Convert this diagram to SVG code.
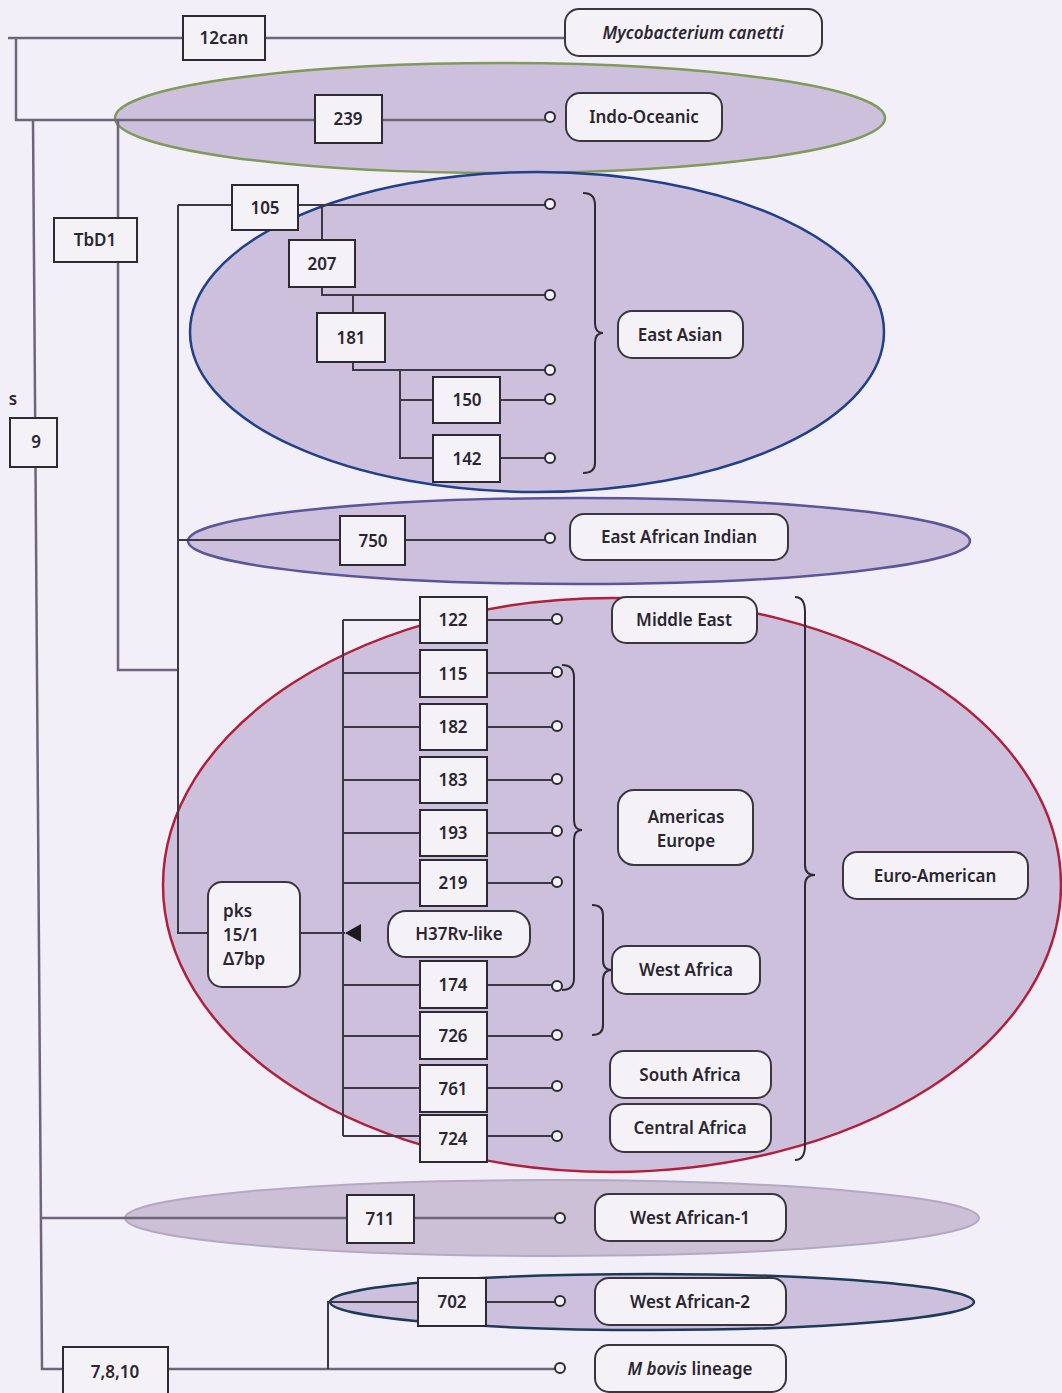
<svg xmlns="http://www.w3.org/2000/svg" width="1062" height="1393" viewBox="0 0 1062 1393">
<defs>
<style>
.t{font-family:"Noto Sans","Open Sans",sans-serif;font-size:17px;font-weight:600;fill:#2a2630;text-anchor:middle}
.tl{font-family:"Noto Sans","Open Sans",sans-serif;font-size:17px;font-weight:600;fill:#2a2630;text-anchor:start}
.box{fill:#f5f2f7;stroke:#2e2a34;stroke-width:2}
.lab{fill:#f5f2f7;stroke:#3a3640;stroke-width:2}
.ln{fill:none;stroke:#3d3846;stroke-width:2}
.tr{fill:none;stroke:#6e6578;stroke-width:2.5}
.dot{fill:#f5f2f7;stroke:#2e2a34;stroke-width:2}
.br{fill:none;stroke:#2e2a34;stroke-width:2}
.ell{fill:#cdc0dc}
</style>
</defs>
<rect width="1062" height="1393" fill="#f3eff8"/>

<g id="ellipses">
<ellipse id="indo-oceanic-group" class="ell" cx="500" cy="118" rx="385" ry="55" stroke="#7f9a5a" stroke-width="2.5"/>
<ellipse id="east-asian-group" class="ell" cx="537" cy="332" rx="347" ry="160" stroke="#22408a" stroke-width="2.5"/>
<ellipse id="eai-group" class="ell" cx="579" cy="541" rx="391" ry="43" stroke="#5a569a" stroke-width="2.5"/>
<ellipse id="euro-group" class="ell" cx="612" cy="885" rx="449" ry="287" stroke="#b0203a" stroke-width="2.5"/>
<ellipse id="wa1-group" cx="552" cy="1218" rx="427" ry="38" fill="#cbc0d6" stroke="#b3a9c2" stroke-width="2"/>
<ellipse id="wa2-group" class="ell" cx="652" cy="1302" rx="322" ry="28" stroke="#1f3a58" stroke-width="2.5"/>
</g>

<g id="connectors">
<path class="tr" d="M8,38 H565 M16,38 V120 H550 M33,120 L42,1369 H560 M118,120 V670 H178"/>
<path class="ln" d="M178,205 V933 H345"/>
<path class="ln" d="M178,205 H545 M322,205 V295 H545 M353,295 V370 H545 M400,370 V458 H545 M400,400 H545"/>
<path class="ln" d="M178,540 H545"/>
<path class="ln" d="M343,620 V1136 M343,620 H552 M343,673 H552 M343,727 H552 M343,780 H552 M343,833 H552 M343,883 H552 M343,985 H552 M343,1036 H552 M343,1088 H552 M343,1136 H552"/>
<path class="tr" d="M42,1218 H555"/>
<path class="ln" d="M328,1369 V1302 H555"/>
<polygon points="345,933 361,924 361,942" fill="#1e1a22"/>
<circle class="dot" cx="550" cy="117" r="5"/>
<circle class="dot" cx="550" cy="204" r="5"/>
<circle class="dot" cx="550" cy="295" r="5"/>
<circle class="dot" cx="550" cy="370" r="5"/>
<circle class="dot" cx="550" cy="399" r="5"/>
<circle class="dot" cx="550" cy="458" r="5"/>
<circle class="dot" cx="550" cy="538" r="5"/>
<circle class="dot" cx="557" cy="619" r="5"/>
<circle class="dot" cx="557" cy="672" r="5"/>
<circle class="dot" cx="557" cy="726" r="5"/>
<circle class="dot" cx="557" cy="779" r="5"/>
<circle class="dot" cx="557" cy="831" r="5"/>
<circle class="dot" cx="557" cy="882" r="5"/>
<circle class="dot" cx="557" cy="986" r="5"/>
<circle class="dot" cx="557" cy="1035" r="5"/>
<circle class="dot" cx="557" cy="1086" r="5"/>
<circle class="dot" cx="557" cy="1136" r="5"/>
<circle class="dot" cx="560" cy="1218" r="5"/>
<circle class="dot" cx="560" cy="1301" r="5"/>
<circle class="dot" cx="560" cy="1368" r="5"/>
<path class="br" d="M583,193 Q595,193 595,205 L595,323 Q595,333 603,333 Q595,333 595,343 L595,463 Q595,473 583,473"/>
<path class="br" d="M562,665 Q574,665 574,677 L574,820 Q574,830 582,830 Q574,830 574,840 L574,978 Q574,990 562,990"/>
<path class="br" d="M592,905 Q603,905 603,915 L603,960 Q603,970 612,970 Q603,970 603,980 L603,1025 Q603,1035 592,1035"/>
<path class="br" d="M795,597 Q805,597 805,612 L805,865 Q805,875 815,875 Q805,875 805,885 L805,1145 Q805,1160 795,1160"/>
</g>

<g id="n-12can"><rect class="box" x="183" y="16" width="82" height="44"/><text class="t" x="224" y="44">12can</text></g>
<g id="n-canetti"><rect class="lab" x="565" y="9" width="257" height="47" rx="14"/><text class="t" x="693" y="39" font-style="italic">Mycobacterium canetti</text></g>
<g id="n-239"><rect class="box" x="315" y="95" width="67" height="48"/><text class="t" x="348" y="125">239</text></g>
<g id="n-indo"><rect class="lab" x="566" y="93" width="156" height="48" rx="14"/><text class="t" x="644" y="123">Indo-Oceanic</text></g>
<g id="n-tbd1"><rect class="box" x="54" y="218" width="83" height="44"/><text class="t" x="95" y="246" font-size="15">TbD1</text></g>
<g id="n-9"><rect class="box" x="10" y="418" width="47" height="49"/><text class="t" x="36" y="448">9</text></g>
<g id="n-s"><text class="t" x="13" y="405" font-size="15">s</text></g>
<g id="n-105"><rect class="box" x="232" y="185" width="66" height="45"/><text class="t" x="265" y="214">105</text></g>
<g id="n-207"><rect class="box" x="289" y="240" width="66" height="47"/><text class="t" x="322" y="270">207</text></g>
<g id="n-181"><rect class="box" x="317" y="313" width="68" height="49"/><text class="t" x="351" y="344">181</text></g>
<g id="n-150"><rect class="box" x="433" y="377" width="67" height="46"/><text class="t" x="467" y="406">150</text></g>
<g id="n-142"><rect class="box" x="433" y="435" width="67" height="47"/><text class="t" x="467" y="465">142</text></g>
<g id="n-eastasian"><rect class="lab" x="618" y="311" width="125" height="47" rx="14"/><text class="t" x="680" y="341">East Asian</text></g>
<g id="n-750"><rect class="box" x="340" y="516" width="65" height="49"/><text class="t" x="373" y="547">750</text></g>
<g id="n-eai"><rect class="lab" x="570" y="514" width="218" height="46" rx="14"/><text class="t" x="679" y="543">East African Indian</text></g>
<g id="n-122"><rect class="box" x="420" y="597" width="67" height="46"/><text class="t" x="453" y="626">122</text></g>
<g id="n-115"><rect class="box" x="420" y="650" width="67" height="47"/><text class="t" x="453" y="680">115</text></g>
<g id="n-182"><rect class="box" x="420" y="704" width="67" height="46"/><text class="t" x="453" y="733">182</text></g>
<g id="n-183"><rect class="box" x="420" y="757" width="67" height="46"/><text class="t" x="453" y="786">183</text></g>
<g id="n-193"><rect class="box" x="420" y="810" width="67" height="46"/><text class="t" x="453" y="839">193</text></g>
<g id="n-219"><rect class="box" x="420" y="860" width="67" height="46"/><text class="t" x="453" y="889">219</text></g>
<g id="n-h37rv"><rect class="lab" x="388" y="911" width="142" height="46" rx="18"/><text class="t" x="459" y="940">H37Rv-like</text></g>
<g id="n-174"><rect class="box" x="420" y="961" width="67" height="47"/><text class="t" x="453" y="991">174</text></g>
<g id="n-726"><rect class="box" x="420" y="1012" width="67" height="47"/><text class="t" x="453" y="1042">726</text></g>
<g id="n-761"><rect class="box" x="420" y="1065" width="67" height="47"/><text class="t" x="453" y="1095">761</text></g>
<g id="n-724"><rect class="box" x="420" y="1115" width="67" height="47"/><text class="t" x="453" y="1145">724</text></g>
<g id="n-pks"><rect class="lab" x="208" y="882" width="92" height="105" rx="14"/><text class="tl" x="223" y="917">pks</text><text class="tl" x="223" y="941">15/1</text><text class="tl" x="223" y="965">Δ7bp</text></g>
<g id="n-middleeast"><rect class="lab" x="612" y="597" width="145" height="46" rx="14"/><text class="t" x="684" y="626">Middle East</text></g>
<g id="n-americas"><rect class="lab" x="618" y="790" width="135" height="75" rx="16"/><text class="t" x="686" y="823">Americas</text><text class="t" x="686" y="847">Europe</text></g>
<g id="n-westafrica"><rect class="lab" x="612" y="946" width="148" height="48" rx="14"/><text class="t" x="686" y="976">West Africa</text></g>
<g id="n-southafrica"><rect class="lab" x="610" y="1051" width="161" height="47" rx="14"/><text class="t" x="690" y="1081">South Africa</text></g>
<g id="n-centralafrica"><rect class="lab" x="610" y="1104" width="161" height="48" rx="14"/><text class="t" x="690" y="1134">Central Africa</text></g>
<g id="n-euroamerican"><rect class="lab" x="843" y="852" width="185" height="47" rx="14"/><text class="t" x="935" y="882">Euro-American</text></g>
<g id="n-711"><rect class="box" x="347" y="1195" width="67" height="48"/><text class="t" x="380" y="1225">711</text></g>
<g id="n-wa1"><rect class="lab" x="595" y="1194" width="191" height="47" rx="14"/><text class="t" x="690" y="1224">West African-1</text></g>
<g id="n-702"><rect class="box" x="418" y="1278" width="68" height="48"/><text class="t" x="452" y="1308">702</text></g>
<g id="n-wa2"><rect class="lab" x="595" y="1278" width="191" height="47" rx="14"/><text class="t" x="690" y="1308">West African-2</text></g>
<g id="n-7810"><rect class="box" x="63" y="1347" width="105" height="50"/><text class="t" x="115" y="1378">7,8,10</text></g>
<g id="n-mbovis"><rect class="lab" x="595" y="1345" width="191" height="47" rx="14"/><text class="t" x="690" y="1375"><tspan font-style="italic">M bovis</tspan> lineage</text></g>
</svg>
